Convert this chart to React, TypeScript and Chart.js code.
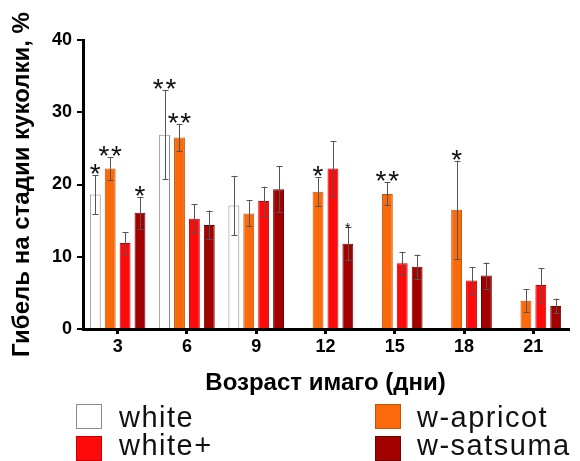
import React, { useEffect, useRef } from "react";
import { Chart, registerables } from "chart.js";

Chart.register(...registerables);

// ---- data ----
const categories = ["3", "6", "9", "12", "15", "18", "21"];
const seriesNames = ["white", "w-apricot", "white+", "w-satsuma"];

const whiteValues = [18.6, 26.9, 17.1, null, null, null, null];
const whiteErrors = [2.7, 6.2, 4.1, null, null, null, null];
const whiteStars = ["*", "**", "", "", "", "", ""];

const apricotValues = [22.2, 26.5, 16.0, 19.0, 18.7, 16.5, 3.9];
const apricotErrors = [1.6, 1.9, 1.8, 2.0, 1.6, 6.8, 1.6];
const apricotStars = ["**", "**", "", "*", "**", "*", ""];

const whitePlusValues = [11.9, 15.25, 17.7, 22.2, 9.1, 6.7, 6.1];
const whitePlusErrors = [1.5, 2.0, 2.0, 3.8, 1.6, 1.9, 2.3];
const whitePlusStars = ["", "", "", "", "", "", ""];

const satsumaValues = [16.1, 14.4, 19.35, 11.8, 8.6, 7.4, 3.2];
const satsumaErrors = [2.2, 2.0, 3.2, 2.3, 1.7, 1.8, 1.0];
const satsumaStars = ["*", "", "", "*", "", "", ""];

const yTicks = [0, 10, 20, 30, 40];
const yTitle = "Гибель на стадии куколки, %";
const xTitle = "Возраст имаго (дни)";

// ---- styles ----
const fills = ["#ffffff", "#fa6a0a", "#ff0a0a", "#a30000"];
const borders = ["#8a8a8a", "#c0520a", "#c80000", "#6e0000"];
const smallStars = new Set(["3:3"]); // dataset:index drawn with a small asterisk
const FONT = "'Liberation Sans', Arial, Helvetica, sans-serif";

const allErrors = [whiteErrors, apricotErrors, whitePlusErrors, satsumaErrors];
const allStars = [whiteStars, apricotStars, whitePlusStars, satsumaStars];
const allValues = [whiteValues, apricotValues, whitePlusValues, satsumaValues];

const errorBarPlugin = {
  id: "errorBars",
  afterDatasetsDraw(chart: any) {
    const ctx = chart.ctx;
    const y = chart.scales.y;
    ctx.save();
    chart.data.datasets.forEach((ds: any, d: number) => {
      const meta = chart.getDatasetMeta(d);
      meta.data.forEach((bar: any, i: number) => {
        const v = allValues[d][i];
        const e = allErrors[d][i];
        if (v == null || e == null) return;
        const x = Math.round(bar.x) + 0.5;
        const yt = y.getPixelForValue(v + e);
        const yb = y.getPixelForValue(v - e);
        ctx.strokeStyle = "#555555";
        ctx.lineWidth = 1;
        ctx.beginPath();
        ctx.moveTo(x, yt);
        ctx.lineTo(x, yb);
        ctx.moveTo(x - 3, Math.round(yt) + 0.5);
        ctx.lineTo(x + 3, Math.round(yt) + 0.5);
        ctx.moveTo(x - 3, Math.round(yb) + 0.5);
        ctx.lineTo(x + 3, Math.round(yb) + 0.5);
        ctx.stroke();

        const s = allStars[d][i];
        if (s) {
          const small = smallStars.has(d + ":" + i);
          const size = small ? 14 : 28;
          const gap = small ? 7 : 12.6;
          ctx.fillStyle = "#111";
          ctx.font = size + "px " + FONT;
          ctx.textAlign = "center";
          ctx.textBaseline = "alphabetic";
          const n = s.length;
          for (let k = 0; k < n; k++) {
            const cx = bar.x + (k - (n - 1) / 2) * gap;
            ctx.fillText("*", cx, yt + (small ? 6 : 8));
          }
        }
      });
    });
    ctx.restore();
  },
};

export default function App() {
  const ref = useRef<HTMLCanvasElement | null>(null);

  useEffect(() => {
    if (!ref.current) return;
    const chart = new Chart(ref.current, {
      type: "bar",
      data: {
        labels: categories,
        datasets: allValues.map((vals, d) => ({
          label: seriesNames[d],
          data: vals,
          backgroundColor: fills[d],
          borderColor: borders[d],
          borderWidth: 1,
          categoryPercentage: 0.86,
          barPercentage: 0.73,
        })),
      },
      options: {
        responsive: false,
        animation: false,
        devicePixelRatio: 1,
        layout: { padding: { left: 0, top: 40, right: 12, bottom: 59 } },
        plugins: { legend: { display: false }, tooltip: { enabled: false } },
        scales: {
          x: {
            z: 1,
            grid: {
              display: true,
              drawOnChartArea: false,
              drawTicks: true,
              tickLength: 5,
              lineWidth: 3,
              color: "#000",
              offset: false,
            },
            border: { display: true, width: 3, color: "#000" },
            ticks: {
              color: "#000",
              font: { family: FONT, size: 18, weight: "bold" },
              padding: 2,
            },
            title: {
              display: true,
              text: xTitle,
              color: "#000",
              font: { family: FONT, size: 24, weight: "bold" },
              padding: { top: 4, bottom: 4 },
            },
            afterFit: (s: any) => {
              s.height = 73;
            },
          },
          y: {
            z: 1,
            min: 0,
            max: 40,
            grid: {
              display: true,
              drawOnChartArea: false,
              drawTicks: true,
              tickLength: 6,
              lineWidth: 2,
              color: "#000",
            },
            border: { display: true, width: 3, color: "#000" },
            ticks: {
              color: "#000",
              font: { family: FONT, size: 18, weight: "bold" },
              padding: 5,
            },
            afterBuildTicks: (s: any) => {
              s.ticks = yTicks.map((v) => ({ value: v }));
            },
            title: {
              display: true,
              text: yTitle,
              color: "#000",
              font: { family: FONT, size: 24, weight: "bold" },
              padding: { top: 8, bottom: 4 },
            },
            afterFit: (s: any) => {
              s.width = 83;
            },
          },
        },
      },
      plugins: [errorBarPlugin],
    } as any);
    return () => chart.destroy();
  }, []);

  const legendItems = [
    { name: seriesNames[0], box: { left: 76, top: 404 }, text: { left: 119, top: 402.5 } },
    { name: seriesNames[1], box: { left: 375, top: 404 }, text: { left: 417, top: 402.5 } },
    { name: seriesNames[2], box: { left: 76, top: 436 }, text: { left: 119, top: 430.5 } },
    { name: seriesNames[3], box: { left: 375, top: 436 }, text: { left: 417, top: 430.5 } },
  ];

  return (
    <div style={{ position: "absolute", left: 0, top: 0, width: 580, height: 461, background: "#fff", overflow: "hidden" }}>
      <canvas ref={ref} width={580} height={461} style={{ width: 580, height: 461, display: "block" }} />
      {legendItems.map((it, k) => (
        <React.Fragment key={it.name}>
          <div
            style={{
              position: "absolute",
              left: it.box.left,
              top: it.box.top,
              width: 26,
              height: 25,
              boxSizing: "border-box",
              background: fills[k],
              border: "1.5px solid " + borders[k],
            }}
          />
          <div
            style={{
              position: "absolute",
              left: it.text.left,
              top: it.text.top,
              fontFamily: FONT,
              fontSize: 29,
              lineHeight: "29px",
              letterSpacing: "1.5px",
              color: "#111",
              whiteSpace: "nowrap",
            }}
          >
            {it.name}
          </div>
        </React.Fragment>
      ))}
    </div>
  );
}
